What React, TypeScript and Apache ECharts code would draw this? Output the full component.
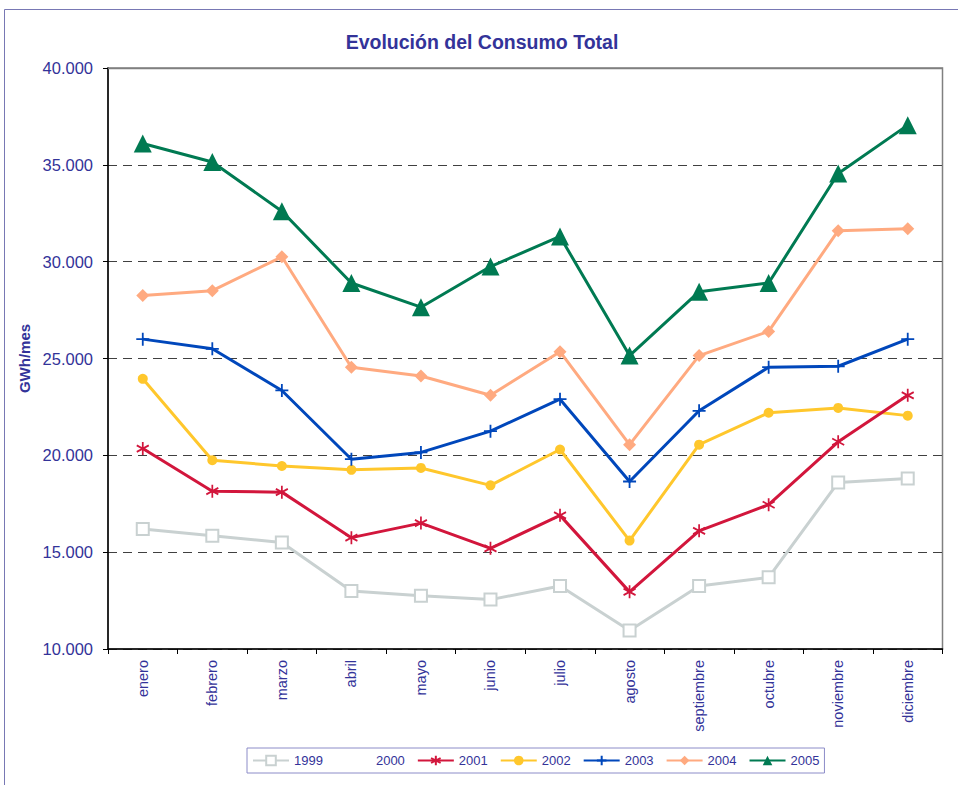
import React, { useEffect, useRef } from "react";
import * as echarts from "echarts";

const months = ["enero", "febrero", "marzo", "abril", "mayo", "junio", "julio", "agosto", "septiembre", "octubre", "noviembre", "diciembre"];
const v1999 = [16200, 15850, 15500, 13000, 12750, 12550, 13250, 10950, 13250, 13700, 18600, 18800];
const v2000: number[] = [];
const v2001 = [20350, 18150, 18100, 15750, 16500, 15200, 16900, 12950, 16100, 17450, 20700, 23100];
const v2002 = [23950, 19750, 19450, 19250, 19350, 18450, 20300, 15600, 20550, 22200, 22450, 22050];
const v2003 = [26000, 25500, 23350, 19800, 20150, 21250, 22900, 18650, 22300, 24550, 24600, 26000];
const v2004 = [28250, 28500, 30250, 24550, 24100, 23100, 25350, 20550, 25150, 26400, 31600, 31700];
const v2005 = [36100, 35150, 32600, 28900, 27650, 29750, 31300, 25150, 28450, 28900, 34550, 37050];

const FONT = 'Arial, "Liberation Sans", sans-serif';
const NAVY = "#333399";

const fmt = (v: number) => String(v).replace(/\B(?=(\d{3})+(?!\d))/g, ".");

export default function App() {
  const ref = useRef<HTMLDivElement>(null);
  useEffect(() => {
    if (!ref.current) return;
    const chart = echarts.init(ref.current, null, { renderer: "svg" });
    const mk = (name: string, data: number[], color: string, symbol: string, size: number | number[], extra: any = {}) => ({
      name,
      type: "line",
      data,
      symbol,
      symbolSize: size,
      lineStyle: { color, width: 3 },
      itemStyle: { color, borderColor: color, borderWidth: 0 },
      ...extra,
    });
    const asterisk = "path://M0,-1L0,1M-0.866,-0.5L0.866,0.5M-0.866,0.5L0.866,-0.5";
    const plus = "path://M0,-1L0,1M-1,0L1,0";
    chart.setOption({
      animation: false,
      backgroundColor: "#ffffff",
      title: {
        text: "Evolución del Consumo Total",
        left: 477,
        textAlign: "center",
        top: 27,
        textStyle: { fontFamily: FONT, fontSize: 19.5, fontWeight: "bold", color: NAVY },
      },
      graphic: [
        {
          type: "rect",
          shape: { x: 4.5, y: 9.5, width: 1000, height: 1000 },
          style: { fill: "none", stroke: "#7878B4", lineWidth: 1 },
          silent: true,
          z: -10,
        },
        {
          type: "line",
          shape: { x1: 108, y1: 68.5, x2: 943, y2: 68.5 },
          style: { stroke: "#808080", lineWidth: 1.5 },
          silent: true,
          z: 1,
        },
      ],
      legend: {
        left: 247,
        top: 748,
        padding: [6, 5],
        itemWidth: 36,
        itemHeight: 12,
        itemGap: 12,
        borderColor: "#8C8CC8",
        borderWidth: 1,
        textStyle: { fontFamily: FONT, fontSize: 13, color: NAVY },
        data: ["1999", "2000", "2001", "2002", "2003", "2004", "2005"],
      },
      grid: { left: 108, right: 15.5, top: 68, bottom: 136, show: true, borderColor: "#808080", borderWidth: 1.5 },
      xAxis: {
        type: "category",
        data: months,
        boundaryGap: true,
        axisLine: { lineStyle: { color: "#000", width: 1.5 } },
        axisTick: { show: true, length: 5, lineStyle: { color: "#000" } },
        axisLabel: { rotate: 90, margin: 11, fontFamily: FONT, fontSize: 14.5, color: NAVY },
        splitLine: { show: false },
      },
      yAxis: {
        type: "value",
        min: 10000,
        max: 40000,
        interval: 5000,
        name: "GWh/mes",
        nameLocation: "middle",
        nameGap: 70,
        nameTextStyle: { fontFamily: FONT, fontSize: 15, fontWeight: "bold", color: NAVY },
        axisLine: { show: true, lineStyle: { color: "#000", width: 1.5 } },
        axisTick: { show: true, length: 5, lineStyle: { color: "#000" } },
        axisLabel: { margin: 15, fontFamily: FONT, fontSize: 16.5, color: NAVY, formatter: (v: number) => fmt(v) },
        splitLine: { show: true, lineStyle: { color: "#404040", width: 1, type: [9, 6] } },
      },
      series: [
        mk("1999", v1999, "#C9D1D1", "rect", 12, {
          itemStyle: { color: "#ffffff", borderColor: "#C9D1D1", borderWidth: 2 },
        }),
        {
          name: "2000",
          type: "line",
          data: v2000,
          symbol: "none",
          lineStyle: { color: "rgba(0,0,0,0)", width: 0 },
          itemStyle: { color: "rgba(0,0,0,0)" },
        },
        mk("2002", v2002, "#FFC72C", "circle", 10),
        mk("2001", v2001, "#D2163C", asterisk, [12, 13], {
          itemStyle: { color: "#D2163C", borderColor: "#D2163C", borderWidth: 1.8 },
        }),
        mk("2003", v2003, "#0047BB", plus, 13, {
          itemStyle: { color: "#0047BB", borderColor: "#0047BB", borderWidth: 1.8 },
        }),
        mk("2004", v2004, "#FFAA80", "diamond", 13),
        mk("2005", v2005, "#007A52", "triangle", 18),
      ],
    });
    return () => chart.dispose();
  }, []);
  return <div ref={ref} style={{ position: "absolute", left: 0, top: 0, width: 958, height: 785 }} />;
}
